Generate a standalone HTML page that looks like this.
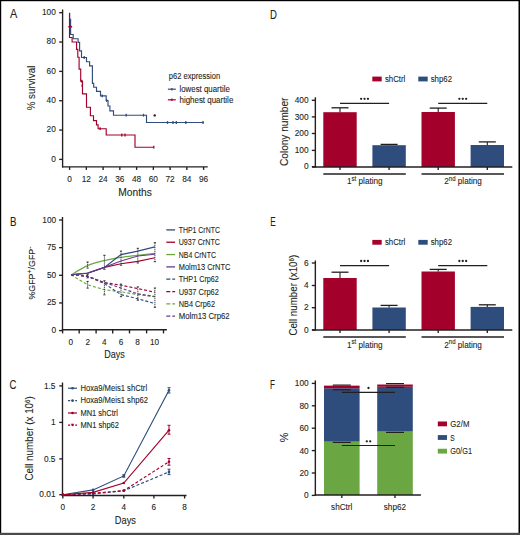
<!DOCTYPE html>
<html><head><meta charset="utf-8"><style>
html,body{margin:0;padding:0;background:#fff;}
body{width:520px;height:535px;overflow:hidden;position:relative;}
svg{position:absolute;left:0;top:0;display:block;}
text{font-family:"Liberation Sans", sans-serif;fill:#231f20;stroke:#231f20;stroke-width:0.1;}
</style></head><body>
<svg width="520" height="535" viewBox="0 0 520 535">
<rect x="0" y="0" width="520" height="535" fill="#fff"/>
<text x="9.9" y="18.4" font-size="12.4" textLength="7.3" lengthAdjust="spacingAndGlyphs">A</text>
<line x1="62.60" y1="9.50" x2="62.60" y2="167.50" stroke="#231f20" stroke-width="1.35"/>
<line x1="62.00" y1="166.90" x2="207.70" y2="166.90" stroke="#231f20" stroke-width="1.35"/>
<line x1="59.20" y1="159.40" x2="62.60" y2="159.40" stroke="#231f20" stroke-width="1.35"/>
<text x="55.8" y="161.70000000000002" font-size="8.3" text-anchor="end">0</text>
<line x1="59.20" y1="130.06" x2="62.60" y2="130.06" stroke="#231f20" stroke-width="1.35"/>
<text x="55.8" y="132.36" font-size="8.3" text-anchor="end">20</text>
<line x1="59.20" y1="100.72" x2="62.60" y2="100.72" stroke="#231f20" stroke-width="1.35"/>
<text x="55.8" y="103.02" font-size="8.3" text-anchor="end">40</text>
<line x1="59.20" y1="71.38" x2="62.60" y2="71.38" stroke="#231f20" stroke-width="1.35"/>
<text x="55.8" y="73.67999999999999" font-size="8.3" text-anchor="end">60</text>
<line x1="59.20" y1="42.04" x2="62.60" y2="42.04" stroke="#231f20" stroke-width="1.35"/>
<text x="55.8" y="44.33999999999999" font-size="8.3" text-anchor="end">80</text>
<line x1="59.20" y1="12.70" x2="62.60" y2="12.70" stroke="#231f20" stroke-width="1.35"/>
<text x="55.8" y="14.99999999999999" font-size="8.3" text-anchor="end">100</text>
<line x1="69.60" y1="166.90" x2="69.60" y2="169.90" stroke="#231f20" stroke-width="1.35"/>
<text x="69.6" y="181.7" font-size="8.3" text-anchor="middle">0</text>
<line x1="86.35" y1="166.90" x2="86.35" y2="169.90" stroke="#231f20" stroke-width="1.35"/>
<text x="86.35" y="181.7" font-size="8.3" text-anchor="middle">12</text>
<line x1="103.10" y1="166.90" x2="103.10" y2="169.90" stroke="#231f20" stroke-width="1.35"/>
<text x="103.1" y="181.7" font-size="8.3" text-anchor="middle">24</text>
<line x1="119.85" y1="166.90" x2="119.85" y2="169.90" stroke="#231f20" stroke-width="1.35"/>
<text x="119.85" y="181.7" font-size="8.3" text-anchor="middle">36</text>
<line x1="136.60" y1="166.90" x2="136.60" y2="169.90" stroke="#231f20" stroke-width="1.35"/>
<text x="136.6" y="181.7" font-size="8.3" text-anchor="middle">48</text>
<line x1="153.35" y1="166.90" x2="153.35" y2="169.90" stroke="#231f20" stroke-width="1.35"/>
<text x="153.35" y="181.7" font-size="8.3" text-anchor="middle">60</text>
<line x1="170.10" y1="166.90" x2="170.10" y2="169.90" stroke="#231f20" stroke-width="1.35"/>
<text x="170.1" y="181.7" font-size="8.3" text-anchor="middle">72</text>
<line x1="186.85" y1="166.90" x2="186.85" y2="169.90" stroke="#231f20" stroke-width="1.35"/>
<text x="186.85" y="181.7" font-size="8.3" text-anchor="middle">84</text>
<line x1="203.60" y1="166.90" x2="203.60" y2="169.90" stroke="#231f20" stroke-width="1.35"/>
<text x="203.6" y="181.7" font-size="8.3" text-anchor="middle">96</text>
<text x="135.05" y="195.6" font-size="10.8" text-anchor="middle" textLength="33.5" lengthAdjust="spacingAndGlyphs">Months</text>
<text x="35.1" y="88.0" font-size="11.3" text-anchor="middle" textLength="44.7" lengthAdjust="spacingAndGlyphs" transform="rotate(-90 35.1 88.0)">% survival</text>
<path d="M69.6,12.7 V19.2 H70.6 V34.5 H73.2 V38.7 H78.1 V42.4 H79.6 V50.8 H81.5 V57.5 H86.5 V61.7 H89.6 V65.8 H92.4 V83.3 H93.7 V87.2 H96.5 V91.4 H100.5 V95.9 H106.2 V100.5 H108 V106 H109.9 V110.9 H113.5 V115.2 H146.5 V122.5 H203.8" fill="none" stroke="#2e4c7c" stroke-width="1.15"/>
<line x1="102.20" y1="94.50" x2="102.20" y2="97.30" stroke="#2e4c7c" stroke-width="1.3"/>
<line x1="106.60" y1="99.10" x2="106.60" y2="101.90" stroke="#2e4c7c" stroke-width="1.3"/>
<line x1="126.20" y1="113.80" x2="126.20" y2="116.60" stroke="#2e4c7c" stroke-width="1.3"/>
<line x1="143.50" y1="113.80" x2="143.50" y2="116.60" stroke="#2e4c7c" stroke-width="1.3"/>
<line x1="167.50" y1="121.10" x2="167.50" y2="123.90" stroke="#2e4c7c" stroke-width="1.3"/>
<line x1="173.00" y1="121.10" x2="173.00" y2="123.90" stroke="#2e4c7c" stroke-width="1.3"/>
<line x1="176.30" y1="121.10" x2="176.30" y2="123.90" stroke="#2e4c7c" stroke-width="1.3"/>
<line x1="185.80" y1="121.10" x2="185.80" y2="123.90" stroke="#2e4c7c" stroke-width="1.3"/>
<line x1="203.00" y1="121.10" x2="203.00" y2="123.90" stroke="#2e4c7c" stroke-width="1.3"/>
<line x1="84.20" y1="56.10" x2="84.20" y2="58.90" stroke="#2e4c7c" stroke-width="1.3"/>
<path d="M69.5,12.9 V37.5 H72.1 V42 H76.6 V49.4 H77.8 V57.2 H79.1 V69.1 H80.7 V81.1 H82.5 V93.8 H86.5 V107.2 H90.4 V115.7 H93.5 V120.6 H96.5 V124.8 H98.1 V128.7 H106.2 V135 H135 V147.2 H153.8" fill="none" stroke="#a3002b" stroke-width="1.15"/>
<line x1="81.50" y1="79.70" x2="81.50" y2="82.50" stroke="#a3002b" stroke-width="1.3"/>
<line x1="82.20" y1="84.30" x2="82.20" y2="87.10" stroke="#a3002b" stroke-width="1.3"/>
<line x1="100.10" y1="127.30" x2="100.10" y2="130.10" stroke="#a3002b" stroke-width="1.3"/>
<line x1="121.80" y1="133.60" x2="121.80" y2="136.40" stroke="#a3002b" stroke-width="1.3"/>
<line x1="125.00" y1="133.60" x2="125.00" y2="136.40" stroke="#a3002b" stroke-width="1.3"/>
<line x1="153.80" y1="145.80" x2="153.80" y2="148.60" stroke="#a3002b" stroke-width="1.3"/>
<line x1="68.40" y1="26.70" x2="72.10" y2="26.70" stroke="#a3002b" stroke-width="1.6"/>
<circle cx="154.70" cy="115.40" r="1.2" fill="#231f20"/>
<text x="168.8" y="79.2" font-size="8.3" textLength="51.3" lengthAdjust="spacingAndGlyphs">p62 expression</text>
<line x1="167.90" y1="89.20" x2="175.80" y2="89.20" stroke="#2e4c7c" stroke-width="1.2"/>
<line x1="171.90" y1="88.00" x2="171.90" y2="90.40" stroke="#2e4c7c" stroke-width="1.3"/>
<text x="179.5" y="92.1" font-size="8.3" textLength="50.3" lengthAdjust="spacingAndGlyphs">lowest quartile</text>
<line x1="167.90" y1="99.80" x2="175.80" y2="99.80" stroke="#a3002b" stroke-width="1.2"/>
<line x1="171.90" y1="98.60" x2="171.90" y2="101.00" stroke="#a3002b" stroke-width="1.3"/>
<text x="179.5" y="102.6" font-size="8.3" textLength="53.8" lengthAdjust="spacingAndGlyphs">highest quartile</text>
<text x="10.0" y="225.5" font-size="12.4" textLength="6.5" lengthAdjust="spacingAndGlyphs">B</text>
<line x1="62.50" y1="217.00" x2="62.50" y2="330.30" stroke="#231f20" stroke-width="1.35"/>
<line x1="61.80" y1="329.70" x2="166.90" y2="329.70" stroke="#231f20" stroke-width="1.35"/>
<line x1="59.10" y1="330.60" x2="62.50" y2="330.60" stroke="#231f20" stroke-width="1.35"/>
<text x="56.2" y="333.1" font-size="8.3" text-anchor="end">0</text>
<line x1="59.10" y1="302.95" x2="62.50" y2="302.95" stroke="#231f20" stroke-width="1.35"/>
<text x="56.2" y="305.45" font-size="8.3" text-anchor="end">25</text>
<line x1="59.10" y1="275.30" x2="62.50" y2="275.30" stroke="#231f20" stroke-width="1.35"/>
<text x="56.2" y="277.8" font-size="8.3" text-anchor="end">50</text>
<line x1="59.10" y1="247.65" x2="62.50" y2="247.65" stroke="#231f20" stroke-width="1.35"/>
<text x="56.2" y="250.15" font-size="8.3" text-anchor="end">75</text>
<line x1="59.10" y1="220.00" x2="62.50" y2="220.00" stroke="#231f20" stroke-width="1.35"/>
<text x="56.2" y="222.5" font-size="8.3" text-anchor="end">100</text>
<line x1="62.60" y1="329.70" x2="62.60" y2="333.40" stroke="#231f20" stroke-width="1.35"/>
<line x1="79.20" y1="329.70" x2="79.20" y2="333.40" stroke="#231f20" stroke-width="1.35"/>
<line x1="96.10" y1="329.70" x2="96.10" y2="333.40" stroke="#231f20" stroke-width="1.35"/>
<line x1="112.70" y1="329.70" x2="112.70" y2="333.40" stroke="#231f20" stroke-width="1.35"/>
<line x1="129.50" y1="329.70" x2="129.50" y2="333.40" stroke="#231f20" stroke-width="1.35"/>
<line x1="146.60" y1="329.70" x2="146.60" y2="333.40" stroke="#231f20" stroke-width="1.35"/>
<line x1="163.50" y1="329.70" x2="163.50" y2="333.40" stroke="#231f20" stroke-width="1.35"/>
<text x="70.7" y="344.6" font-size="8.2" text-anchor="middle">0</text>
<text x="87.8" y="344.6" font-size="8.2" text-anchor="middle">2</text>
<text x="104.2" y="344.6" font-size="8.2" text-anchor="middle">4</text>
<text x="121" y="344.6" font-size="8.2" text-anchor="middle">6</text>
<text x="137.6" y="344.6" font-size="8.2" text-anchor="middle">8</text>
<text x="154.5" y="344.6" font-size="8.2" text-anchor="middle">10</text>
<text x="114.6" y="358.3" font-size="10.3" text-anchor="middle" textLength="20.6" lengthAdjust="spacingAndGlyphs">Days</text>
<text x="35.4" y="273.0" font-size="9.5" text-anchor="middle" textLength="53" lengthAdjust="spacingAndGlyphs" transform="rotate(-90 35.4 273.0)">%GFP<tspan font-size="7.5" dy="-3.4">+</tspan><tspan dy="3.4">/GFP</tspan><tspan font-size="7.5" dy="-3.4">-</tspan></text>
<polyline points="71.0,274.8 87.6,284.8 104.4,289.7 121.0,291.8 137.8,294.6 154.9,296.7" fill="none" stroke="#6aa642" stroke-width="1.15" stroke-dasharray="3,2"/>
<polyline points="71.0,274.8 87.6,276.3 104.4,283.6 121.0,294.6 137.8,298.8 154.9,303.5" fill="none" stroke="#2e4c7c" stroke-width="1.15" stroke-dasharray="3,2"/>
<polyline points="71.0,274.8 87.6,276.3 104.4,282.6 121.0,285.2 137.8,288.6 154.9,292.2" fill="none" stroke="#a3002b" stroke-width="1.15" stroke-dasharray="3,2"/>
<polyline points="71.0,274.8 87.6,276.3 104.4,282.6 121.0,288.0 137.8,293.9 154.9,296.5" fill="none" stroke="#633d8c" stroke-width="1.15" stroke-dasharray="3,2"/>
<path d="M71,274.8 C73.77,273.27 82.03,267.98 87.6,265.6 C93.17,263.22 98.83,261.87 104.4,260.5 C109.97,259.13 115.43,258.27 121,257.4 C126.57,256.53 132.15,256.00 137.8,255.3 C143.45,254.60 152.05,253.55 154.9,253.2" fill="none" stroke="#6aa642" stroke-width="1.15"/>
<polyline points="71.0,274.8 87.6,273.3 104.4,267.4 121.0,263.8 137.8,261.4 154.9,257.7" fill="none" stroke="#a3002b" stroke-width="1.15"/>
<polyline points="71.0,274.8 87.6,273.0 104.4,267.5 121.0,254.6 137.8,251.1 154.9,246.9" fill="none" stroke="#2e4c7c" stroke-width="1.15"/>
<polyline points="71.0,274.8 87.6,273.3 104.4,267.2 121.0,261.0 137.8,256.0 154.9,254.2" fill="none" stroke="#633d8c" stroke-width="1.15"/>
<line x1="87.60" y1="262.00" x2="87.60" y2="268.10" stroke="#333" stroke-width="0.9" stroke-dasharray="1.3,0.7"/>
<line x1="86.50" y1="262.00" x2="88.70" y2="262.00" stroke="#231f20" stroke-width="0.9"/>
<line x1="86.50" y1="268.10" x2="88.70" y2="268.10" stroke="#231f20" stroke-width="0.9"/>
<line x1="104.40" y1="255.30" x2="104.40" y2="269.30" stroke="#333" stroke-width="0.9" stroke-dasharray="1.3,0.7"/>
<line x1="103.30" y1="255.30" x2="105.50" y2="255.30" stroke="#231f20" stroke-width="0.9"/>
<line x1="103.30" y1="269.30" x2="105.50" y2="269.30" stroke="#231f20" stroke-width="0.9"/>
<line x1="121.00" y1="251.10" x2="121.00" y2="265.20" stroke="#333" stroke-width="0.9" stroke-dasharray="1.3,0.7"/>
<line x1="119.90" y1="251.10" x2="122.10" y2="251.10" stroke="#231f20" stroke-width="0.9"/>
<line x1="119.90" y1="265.20" x2="122.10" y2="265.20" stroke="#231f20" stroke-width="0.9"/>
<line x1="137.80" y1="248.30" x2="137.80" y2="263.00" stroke="#333" stroke-width="0.9" stroke-dasharray="1.3,0.7"/>
<line x1="136.70" y1="248.30" x2="138.90" y2="248.30" stroke="#231f20" stroke-width="0.9"/>
<line x1="136.70" y1="263.00" x2="138.90" y2="263.00" stroke="#231f20" stroke-width="0.9"/>
<line x1="154.90" y1="242.70" x2="154.90" y2="261.70" stroke="#333" stroke-width="0.9" stroke-dasharray="1.3,0.7"/>
<line x1="153.80" y1="242.70" x2="156.00" y2="242.70" stroke="#231f20" stroke-width="0.9"/>
<line x1="153.80" y1="261.70" x2="156.00" y2="261.70" stroke="#231f20" stroke-width="0.9"/>
<line x1="87.60" y1="274.70" x2="87.60" y2="277.80" stroke="#333" stroke-width="0.9" stroke-dasharray="1.3,0.7"/>
<line x1="86.50" y1="274.70" x2="88.70" y2="274.70" stroke="#231f20" stroke-width="0.9"/>
<line x1="86.50" y1="277.80" x2="88.70" y2="277.80" stroke="#231f20" stroke-width="0.9"/>
<line x1="87.60" y1="281.40" x2="87.60" y2="288.10" stroke="#333" stroke-width="0.9" stroke-dasharray="1.3,0.7"/>
<line x1="86.50" y1="281.40" x2="88.70" y2="281.40" stroke="#231f20" stroke-width="0.9"/>
<line x1="86.50" y1="288.10" x2="88.70" y2="288.10" stroke="#231f20" stroke-width="0.9"/>
<line x1="104.40" y1="280.80" x2="104.40" y2="294.80" stroke="#333" stroke-width="0.9" stroke-dasharray="1.3,0.7"/>
<line x1="103.30" y1="280.80" x2="105.50" y2="280.80" stroke="#231f20" stroke-width="0.9"/>
<line x1="103.30" y1="294.80" x2="105.50" y2="294.80" stroke="#231f20" stroke-width="0.9"/>
<line x1="121.00" y1="284.10" x2="121.00" y2="296.70" stroke="#333" stroke-width="0.9" stroke-dasharray="1.3,0.7"/>
<line x1="119.90" y1="284.10" x2="122.10" y2="284.10" stroke="#231f20" stroke-width="0.9"/>
<line x1="119.90" y1="296.70" x2="122.10" y2="296.70" stroke="#231f20" stroke-width="0.9"/>
<line x1="137.80" y1="286.90" x2="137.80" y2="300.20" stroke="#333" stroke-width="0.9" stroke-dasharray="1.3,0.7"/>
<line x1="136.70" y1="286.90" x2="138.90" y2="286.90" stroke="#231f20" stroke-width="0.9"/>
<line x1="136.70" y1="300.20" x2="138.90" y2="300.20" stroke="#231f20" stroke-width="0.9"/>
<line x1="154.90" y1="288.00" x2="154.90" y2="307.30" stroke="#333" stroke-width="0.9" stroke-dasharray="1.3,0.7"/>
<line x1="153.80" y1="288.00" x2="156.00" y2="288.00" stroke="#231f20" stroke-width="0.9"/>
<line x1="153.80" y1="307.30" x2="156.00" y2="307.30" stroke="#231f20" stroke-width="0.9"/>
<line x1="166.30" y1="229.90" x2="175.10" y2="229.90" stroke="#2e4c7c" stroke-width="1.3"/>
<text x="178.7" y="232.9" font-size="9.1" textLength="41.2" lengthAdjust="spacingAndGlyphs">THP1 CrNTC</text>
<line x1="166.30" y1="242.23" x2="175.10" y2="242.23" stroke="#a3002b" stroke-width="1.3"/>
<text x="178.7" y="245.23000000000002" font-size="9.1" textLength="41.2" lengthAdjust="spacingAndGlyphs">U937 CrNTC</text>
<line x1="166.30" y1="254.56" x2="175.10" y2="254.56" stroke="#6aa642" stroke-width="1.3"/>
<text x="178.7" y="257.56" font-size="9.1" textLength="37.3" lengthAdjust="spacingAndGlyphs">NB4 CrNTC</text>
<line x1="166.30" y1="266.89" x2="175.10" y2="266.89" stroke="#633d8c" stroke-width="1.3"/>
<text x="178.7" y="269.89" font-size="9.1" textLength="51.6" lengthAdjust="spacingAndGlyphs">Molm13 CrNTC</text>
<line x1="166.30" y1="279.22" x2="175.10" y2="279.22" stroke="#2e4c7c" stroke-width="1.3" stroke-dasharray="4,2"/>
<text x="178.7" y="282.22" font-size="9.1" textLength="40.2" lengthAdjust="spacingAndGlyphs">THP1 Crp62</text>
<line x1="166.30" y1="291.55" x2="175.10" y2="291.55" stroke="#a3002b" stroke-width="1.3" stroke-dasharray="4,2"/>
<text x="178.7" y="294.55" font-size="9.1" textLength="40.2" lengthAdjust="spacingAndGlyphs">U937 Crp62</text>
<line x1="166.30" y1="303.88" x2="175.10" y2="303.88" stroke="#6aa642" stroke-width="1.3" stroke-dasharray="4,2"/>
<text x="178.7" y="306.88" font-size="9.1" textLength="36.3" lengthAdjust="spacingAndGlyphs">NB4 Crp62</text>
<line x1="166.30" y1="316.21" x2="175.10" y2="316.21" stroke="#633d8c" stroke-width="1.3" stroke-dasharray="4,2"/>
<text x="178.7" y="319.21000000000004" font-size="9.1" textLength="51.0" lengthAdjust="spacingAndGlyphs">Molm13 Crp62</text>
<text x="9.4" y="389.0" font-size="12.4" textLength="6.9" lengthAdjust="spacingAndGlyphs">C</text>
<line x1="62.50" y1="382.50" x2="62.50" y2="496.10" stroke="#231f20" stroke-width="1.35"/>
<line x1="62.20" y1="495.50" x2="186.50" y2="495.50" stroke="#231f20" stroke-width="1.35"/>
<line x1="59.30" y1="494.67" x2="62.50" y2="494.67" stroke="#231f20" stroke-width="1.35"/>
<text x="55.5" y="497.27" font-size="8.3" text-anchor="end">0.01</text>
<line x1="59.30" y1="458.90" x2="62.50" y2="458.90" stroke="#231f20" stroke-width="1.35"/>
<text x="55.5" y="461.5" font-size="8.3" text-anchor="end">0.5</text>
<line x1="59.30" y1="422.40" x2="62.50" y2="422.40" stroke="#231f20" stroke-width="1.35"/>
<text x="55.5" y="425.0" font-size="8.3" text-anchor="end">1</text>
<line x1="59.30" y1="385.90" x2="62.50" y2="385.90" stroke="#231f20" stroke-width="1.35"/>
<text x="55.5" y="388.5" font-size="8.3" text-anchor="end">1.5</text>
<line x1="62.80" y1="495.50" x2="62.80" y2="498.50" stroke="#231f20" stroke-width="1.35"/>
<text x="62.8" y="509.8" font-size="8.2" text-anchor="middle">0</text>
<line x1="93.10" y1="495.50" x2="93.10" y2="498.50" stroke="#231f20" stroke-width="1.35"/>
<text x="93.1" y="509.8" font-size="8.2" text-anchor="middle">2</text>
<line x1="123.80" y1="495.50" x2="123.80" y2="498.50" stroke="#231f20" stroke-width="1.35"/>
<text x="123.8" y="509.8" font-size="8.2" text-anchor="middle">4</text>
<line x1="153.90" y1="495.50" x2="153.90" y2="498.50" stroke="#231f20" stroke-width="1.35"/>
<text x="153.9" y="509.8" font-size="8.2" text-anchor="middle">6</text>
<line x1="184.60" y1="495.50" x2="184.60" y2="498.50" stroke="#231f20" stroke-width="1.35"/>
<text x="184.6" y="509.8" font-size="8.2" text-anchor="middle">8</text>
<text x="125.4" y="524.2" font-size="10.4" text-anchor="middle" textLength="21.2" lengthAdjust="spacingAndGlyphs">Days</text>
<text x="33.4" y="438.4" font-size="10.5" text-anchor="middle" textLength="84.3" lengthAdjust="spacingAndGlyphs" transform="rotate(-90 33.4 438.4)">Cell number (x 10<tspan font-size="6.5" dy="-3.8">6</tspan><tspan dy="3.8">)</tspan></text>
<line x1="169.00" y1="387.70" x2="169.00" y2="393.00" stroke="#2e4c7c" stroke-width="1.0"/>
<line x1="167.50" y1="387.70" x2="170.50" y2="387.70" stroke="#2e4c7c" stroke-width="1.0"/>
<line x1="167.50" y1="393.00" x2="170.50" y2="393.00" stroke="#2e4c7c" stroke-width="1.0"/>
<line x1="169.00" y1="425.30" x2="169.00" y2="434.20" stroke="#a3002b" stroke-width="1.0"/>
<line x1="167.50" y1="425.30" x2="170.50" y2="425.30" stroke="#a3002b" stroke-width="1.0"/>
<line x1="167.50" y1="434.20" x2="170.50" y2="434.20" stroke="#a3002b" stroke-width="1.0"/>
<line x1="169.00" y1="458.50" x2="169.00" y2="465.20" stroke="#a3002b" stroke-width="1.0"/>
<line x1="167.50" y1="458.50" x2="170.50" y2="458.50" stroke="#a3002b" stroke-width="1.0"/>
<line x1="167.50" y1="465.20" x2="170.50" y2="465.20" stroke="#a3002b" stroke-width="1.0"/>
<line x1="169.00" y1="469.20" x2="169.00" y2="474.60" stroke="#2e4c7c" stroke-width="1.0"/>
<line x1="167.50" y1="469.20" x2="170.50" y2="469.20" stroke="#2e4c7c" stroke-width="1.0"/>
<line x1="167.50" y1="474.60" x2="170.50" y2="474.60" stroke="#2e4c7c" stroke-width="1.0"/>
<line x1="123.80" y1="474.80" x2="123.80" y2="477.20" stroke="#2e4c7c" stroke-width="1.0"/>
<line x1="122.30" y1="474.80" x2="125.30" y2="474.80" stroke="#2e4c7c" stroke-width="1.0"/>
<line x1="122.30" y1="477.20" x2="125.30" y2="477.20" stroke="#2e4c7c" stroke-width="1.0"/>
<polyline points="62.8,494.8 93.1,494.0 123.8,490.8 169.0,471.9" fill="none" stroke="#2e4c7c" stroke-width="1.15" stroke-dasharray="3,2"/>
<circle cx="62.80" cy="494.80" r="1.3" fill="#2e4c7c"/>
<circle cx="93.10" cy="494.00" r="1.3" fill="#2e4c7c"/>
<circle cx="123.80" cy="490.80" r="1.3" fill="#2e4c7c"/>
<circle cx="169.00" cy="471.90" r="1.3" fill="#2e4c7c"/>
<polyline points="62.8,494.8 93.1,489.9 123.8,475.9 169.0,390.3" fill="none" stroke="#2e4c7c" stroke-width="1.15"/>
<circle cx="62.80" cy="494.80" r="1.3" fill="#2e4c7c"/>
<circle cx="93.10" cy="489.90" r="1.3" fill="#2e4c7c"/>
<circle cx="123.80" cy="475.90" r="1.3" fill="#2e4c7c"/>
<circle cx="169.00" cy="390.30" r="1.3" fill="#2e4c7c"/>
<polyline points="62.8,494.8 93.1,493.3 123.8,490.6 169.0,461.7" fill="none" stroke="#a3002b" stroke-width="1.15" stroke-dasharray="3,2"/>
<circle cx="62.80" cy="494.80" r="1.3" fill="#a3002b"/>
<circle cx="93.10" cy="493.30" r="1.3" fill="#a3002b"/>
<circle cx="123.80" cy="490.60" r="1.3" fill="#a3002b"/>
<circle cx="169.00" cy="461.70" r="1.3" fill="#a3002b"/>
<polyline points="62.8,494.8 93.1,492.4 123.8,483.0 169.0,430.2" fill="none" stroke="#a3002b" stroke-width="1.15"/>
<circle cx="62.80" cy="494.80" r="1.3" fill="#a3002b"/>
<circle cx="93.10" cy="492.40" r="1.3" fill="#a3002b"/>
<circle cx="123.80" cy="483.00" r="1.3" fill="#a3002b"/>
<circle cx="169.00" cy="430.20" r="1.3" fill="#a3002b"/>
<line x1="68.00" y1="388.20" x2="77.00" y2="388.20" stroke="#2e4c7c" stroke-width="1.2"/>
<circle cx="72.50" cy="388.20" r="1.3" fill="#2e4c7c"/>
<text x="80.4" y="390.9" font-size="8.8" textLength="66.7" lengthAdjust="spacingAndGlyphs">Hoxa9/Meis1 shCtrl</text>
<line x1="68.00" y1="400.60" x2="77.00" y2="400.60" stroke="#2e4c7c" stroke-width="1.2" stroke-dasharray="2.2,1.4"/>
<circle cx="72.50" cy="400.60" r="1.3" fill="#2e4c7c"/>
<text x="80.4" y="403.3" font-size="8.8" textLength="67.5" lengthAdjust="spacingAndGlyphs">Hoxa9/Meis1 shp62</text>
<line x1="68.00" y1="413.00" x2="77.00" y2="413.00" stroke="#a3002b" stroke-width="1.2"/>
<circle cx="72.50" cy="413.00" r="1.3" fill="#a3002b"/>
<text x="80.4" y="415.7" font-size="8.8" textLength="37.6" lengthAdjust="spacingAndGlyphs">MN1 shCtrl</text>
<line x1="68.00" y1="425.10" x2="77.00" y2="425.10" stroke="#a3002b" stroke-width="1.2" stroke-dasharray="2.2,1.4"/>
<path d="M70.9,423.8 L74.1,423.8 L72.5,426.6 Z" fill="#a3002b"/>
<text x="80.4" y="427.8" font-size="8.8" textLength="38.6" lengthAdjust="spacingAndGlyphs">MN1 shp62</text>
<text x="269.9" y="18.5" font-size="12.4" textLength="6.9" lengthAdjust="spacingAndGlyphs">D</text>
<rect x="372.30" y="76.60" width="9.40" height="4.80" fill="#a3002b"/>
<text x="384.9" y="82.1" font-size="8.9" textLength="20.4" lengthAdjust="spacingAndGlyphs">shCtrl</text>
<rect x="418.30" y="76.60" width="9.40" height="4.80" fill="#2e4c7c"/>
<text x="430.7" y="82.1" font-size="8.9" textLength="21.3" lengthAdjust="spacingAndGlyphs">shp62</text>
<rect x="323.30" y="112.20" width="33.40" height="54.80" fill="#a3002b"/>
<line x1="340.00" y1="107.80" x2="340.00" y2="112.20" stroke="#231f20" stroke-width="1.1"/>
<line x1="331.50" y1="107.80" x2="348.50" y2="107.80" stroke="#231f20" stroke-width="1.3"/>
<rect x="372.40" y="145.20" width="33.40" height="21.80" fill="#2e4c7c"/>
<line x1="389.10" y1="144.40" x2="389.10" y2="145.20" stroke="#231f20" stroke-width="1.1"/>
<line x1="380.60" y1="144.40" x2="397.60" y2="144.40" stroke="#231f20" stroke-width="1.3"/>
<rect x="421.50" y="112.00" width="33.40" height="55.00" fill="#a3002b"/>
<line x1="438.20" y1="108.10" x2="438.20" y2="112.00" stroke="#231f20" stroke-width="1.1"/>
<line x1="429.70" y1="108.10" x2="446.70" y2="108.10" stroke="#231f20" stroke-width="1.3"/>
<rect x="470.60" y="145.00" width="33.40" height="22.00" fill="#2e4c7c"/>
<line x1="487.30" y1="141.90" x2="487.30" y2="145.00" stroke="#231f20" stroke-width="1.1"/>
<line x1="478.80" y1="141.90" x2="495.80" y2="141.90" stroke="#231f20" stroke-width="1.3"/>
<line x1="315.35" y1="97.30" x2="315.35" y2="167.60" stroke="#231f20" stroke-width="1.4"/>
<line x1="312.00" y1="167.00" x2="512.30" y2="167.00" stroke="#231f20" stroke-width="1.35"/>
<line x1="311.80" y1="166.70" x2="315.35" y2="166.70" stroke="#231f20" stroke-width="1.35"/>
<text x="308.6" y="169.29999999999998" font-size="8.3" text-anchor="end">0</text>
<line x1="311.80" y1="150.40" x2="315.35" y2="150.40" stroke="#231f20" stroke-width="1.35"/>
<text x="308.6" y="153.0" font-size="8.3" text-anchor="end">100</text>
<line x1="311.80" y1="133.50" x2="315.35" y2="133.50" stroke="#231f20" stroke-width="1.35"/>
<text x="308.6" y="136.1" font-size="8.3" text-anchor="end">200</text>
<line x1="311.80" y1="116.90" x2="315.35" y2="116.90" stroke="#231f20" stroke-width="1.35"/>
<text x="308.6" y="119.5" font-size="8.3" text-anchor="end">300</text>
<line x1="311.80" y1="100.30" x2="315.35" y2="100.30" stroke="#231f20" stroke-width="1.35"/>
<text x="308.6" y="102.89999999999999" font-size="8.3" text-anchor="end">400</text>
<line x1="340.00" y1="167.00" x2="340.00" y2="170.00" stroke="#231f20" stroke-width="1.35"/>
<line x1="389.10" y1="167.00" x2="389.10" y2="170.00" stroke="#231f20" stroke-width="1.35"/>
<line x1="438.20" y1="167.00" x2="438.20" y2="170.00" stroke="#231f20" stroke-width="1.35"/>
<line x1="487.30" y1="167.00" x2="487.30" y2="170.00" stroke="#231f20" stroke-width="1.35"/>
<line x1="340.00" y1="103.40" x2="389.10" y2="103.40" stroke="#231f20" stroke-width="1.1"/>
<circle cx="361.15" cy="98.80" r="1.15" fill="#231f20"/>
<circle cx="364.55" cy="98.80" r="1.15" fill="#231f20"/>
<circle cx="367.95" cy="98.80" r="1.15" fill="#231f20"/>
<line x1="323.30" y1="173.90" x2="405.80" y2="173.90" stroke="#231f20" stroke-width="1.5"/>
<line x1="438.20" y1="103.40" x2="487.30" y2="103.40" stroke="#231f20" stroke-width="1.1"/>
<circle cx="459.35" cy="98.80" r="1.15" fill="#231f20"/>
<circle cx="462.75" cy="98.80" r="1.15" fill="#231f20"/>
<circle cx="466.15" cy="98.80" r="1.15" fill="#231f20"/>
<line x1="421.50" y1="173.90" x2="504.00" y2="173.90" stroke="#231f20" stroke-width="1.5"/>
<text x="364.85" y="184.2" font-size="8.9" text-anchor="middle" textLength="35.6" lengthAdjust="spacingAndGlyphs">1<tspan font-size="6.6" dy="-3.3">st</tspan><tspan dy="3.3"> plating</tspan></text>
<text x="463.05" y="184.2" font-size="8.9" text-anchor="middle" textLength="37.5" lengthAdjust="spacingAndGlyphs">2<tspan font-size="6.6" dy="-3.3">nd</tspan><tspan dy="3.3"> plating</tspan></text>
<text x="287.7" y="131.8" font-size="10.3" text-anchor="middle" textLength="68.3" lengthAdjust="spacingAndGlyphs" transform="rotate(-90 287.7 131.8)">Colony number</text>
<text x="270.2" y="225.6" font-size="12.4" textLength="5.5" lengthAdjust="spacingAndGlyphs">E</text>
<rect x="372.30" y="239.90" width="9.40" height="4.80" fill="#a3002b"/>
<text x="384.9" y="245.4" font-size="8.9" textLength="20.4" lengthAdjust="spacingAndGlyphs">shCtrl</text>
<rect x="418.30" y="239.90" width="9.40" height="4.80" fill="#2e4c7c"/>
<text x="430.7" y="245.4" font-size="8.9" textLength="21.3" lengthAdjust="spacingAndGlyphs">shp62</text>
<rect x="323.30" y="278.00" width="33.40" height="52.00" fill="#a3002b"/>
<line x1="340.00" y1="272.20" x2="340.00" y2="278.00" stroke="#231f20" stroke-width="1.1"/>
<line x1="331.50" y1="272.20" x2="348.50" y2="272.20" stroke="#231f20" stroke-width="1.3"/>
<rect x="372.40" y="307.50" width="33.40" height="22.50" fill="#2e4c7c"/>
<line x1="389.10" y1="305.40" x2="389.10" y2="307.50" stroke="#231f20" stroke-width="1.1"/>
<line x1="380.60" y1="305.40" x2="397.60" y2="305.40" stroke="#231f20" stroke-width="1.3"/>
<rect x="421.50" y="271.50" width="33.40" height="58.50" fill="#a3002b"/>
<line x1="438.20" y1="269.40" x2="438.20" y2="271.50" stroke="#231f20" stroke-width="1.1"/>
<line x1="429.70" y1="269.40" x2="446.70" y2="269.40" stroke="#231f20" stroke-width="1.3"/>
<rect x="470.60" y="306.90" width="33.40" height="23.10" fill="#2e4c7c"/>
<line x1="487.30" y1="304.80" x2="487.30" y2="306.90" stroke="#231f20" stroke-width="1.1"/>
<line x1="478.80" y1="304.80" x2="495.80" y2="304.80" stroke="#231f20" stroke-width="1.3"/>
<line x1="315.35" y1="260.50" x2="315.35" y2="330.60" stroke="#231f20" stroke-width="1.4"/>
<line x1="312.00" y1="330.00" x2="512.30" y2="330.00" stroke="#231f20" stroke-width="1.35"/>
<line x1="311.80" y1="330.00" x2="315.35" y2="330.00" stroke="#231f20" stroke-width="1.35"/>
<text x="308.6" y="332.6" font-size="8.3" text-anchor="end">0</text>
<line x1="311.80" y1="307.70" x2="315.35" y2="307.70" stroke="#231f20" stroke-width="1.35"/>
<text x="308.6" y="310.3" font-size="8.3" text-anchor="end">2</text>
<line x1="311.80" y1="285.50" x2="315.35" y2="285.50" stroke="#231f20" stroke-width="1.35"/>
<text x="308.6" y="288.1" font-size="8.3" text-anchor="end">4</text>
<line x1="311.80" y1="263.00" x2="315.35" y2="263.00" stroke="#231f20" stroke-width="1.35"/>
<text x="308.6" y="265.6" font-size="8.3" text-anchor="end">6</text>
<line x1="340.00" y1="330.00" x2="340.00" y2="333.00" stroke="#231f20" stroke-width="1.35"/>
<line x1="389.10" y1="330.00" x2="389.10" y2="333.00" stroke="#231f20" stroke-width="1.35"/>
<line x1="438.20" y1="330.00" x2="438.20" y2="333.00" stroke="#231f20" stroke-width="1.35"/>
<line x1="487.30" y1="330.00" x2="487.30" y2="333.00" stroke="#231f20" stroke-width="1.35"/>
<line x1="340.00" y1="265.60" x2="389.10" y2="265.60" stroke="#231f20" stroke-width="1.1"/>
<circle cx="361.15" cy="261.00" r="1.15" fill="#231f20"/>
<circle cx="364.55" cy="261.00" r="1.15" fill="#231f20"/>
<circle cx="367.95" cy="261.00" r="1.15" fill="#231f20"/>
<line x1="323.30" y1="337.00" x2="405.80" y2="337.00" stroke="#231f20" stroke-width="1.5"/>
<line x1="438.20" y1="265.60" x2="487.30" y2="265.60" stroke="#231f20" stroke-width="1.1"/>
<circle cx="459.35" cy="261.00" r="1.15" fill="#231f20"/>
<circle cx="462.75" cy="261.00" r="1.15" fill="#231f20"/>
<circle cx="466.15" cy="261.00" r="1.15" fill="#231f20"/>
<line x1="421.50" y1="337.00" x2="504.00" y2="337.00" stroke="#231f20" stroke-width="1.5"/>
<text x="364.85" y="347.6" font-size="8.9" text-anchor="middle" textLength="35.6" lengthAdjust="spacingAndGlyphs">1<tspan font-size="6.6" dy="-3.3">st</tspan><tspan dy="3.3"> plating</tspan></text>
<text x="463.05" y="347.6" font-size="8.9" text-anchor="middle" textLength="37.5" lengthAdjust="spacingAndGlyphs">2<tspan font-size="6.6" dy="-3.3">nd</tspan><tspan dy="3.3"> plating</tspan></text>
<text x="297.5" y="295.2" font-size="10.3" text-anchor="middle" textLength="80.8" lengthAdjust="spacingAndGlyphs" transform="rotate(-90 297.5 295.2)">Cell number (x10<tspan font-size="6.5" dy="-3.8">6</tspan><tspan dy="3.8">)</tspan></text>
<text x="270.0" y="388.6" font-size="12.4" textLength="5.0" lengthAdjust="spacingAndGlyphs">F</text>
<rect x="324.00" y="441.64" width="35.60" height="53.36" fill="#6aa642"/>
<rect x="324.00" y="388.22" width="35.60" height="53.42" fill="#2e4c7c"/>
<rect x="324.00" y="385.64" width="35.60" height="2.58" fill="#a3002b"/>
<line x1="332.80" y1="442.40" x2="350.80" y2="442.40" stroke="#231f20" stroke-width="1.2"/>
<line x1="332.80" y1="389.70" x2="350.80" y2="389.70" stroke="#231f20" stroke-width="1.2"/>
<line x1="332.80" y1="385.10" x2="350.80" y2="385.10" stroke="#231f20" stroke-width="1.2"/>
<rect x="377.20" y="431.56" width="35.60" height="63.44" fill="#6aa642"/>
<rect x="377.20" y="386.76" width="35.60" height="44.80" fill="#2e4c7c"/>
<rect x="377.20" y="384.52" width="35.60" height="2.24" fill="#a3002b"/>
<line x1="386.00" y1="432.40" x2="404.00" y2="432.40" stroke="#231f20" stroke-width="1.2"/>
<line x1="386.00" y1="387.30" x2="404.00" y2="387.30" stroke="#231f20" stroke-width="1.2"/>
<line x1="386.00" y1="383.60" x2="404.00" y2="383.60" stroke="#231f20" stroke-width="1.2"/>
<line x1="315.35" y1="380.40" x2="315.35" y2="495.60" stroke="#231f20" stroke-width="1.4"/>
<line x1="314.80" y1="495.00" x2="420.90" y2="495.00" stroke="#231f20" stroke-width="1.35"/>
<line x1="311.80" y1="495.40" x2="315.35" y2="495.40" stroke="#231f20" stroke-width="1.35"/>
<text x="308.7" y="498.4" font-size="8.3" text-anchor="end">0</text>
<line x1="311.80" y1="473.00" x2="315.35" y2="473.00" stroke="#231f20" stroke-width="1.35"/>
<text x="308.7" y="476.0" font-size="8.3" text-anchor="end">20</text>
<line x1="311.80" y1="450.60" x2="315.35" y2="450.60" stroke="#231f20" stroke-width="1.35"/>
<text x="308.7" y="453.59999999999997" font-size="8.3" text-anchor="end">40</text>
<line x1="311.80" y1="428.20" x2="315.35" y2="428.20" stroke="#231f20" stroke-width="1.35"/>
<text x="308.7" y="431.2" font-size="8.3" text-anchor="end">60</text>
<line x1="311.80" y1="405.80" x2="315.35" y2="405.80" stroke="#231f20" stroke-width="1.35"/>
<text x="308.7" y="408.79999999999995" font-size="8.3" text-anchor="end">80</text>
<line x1="311.80" y1="383.40" x2="315.35" y2="383.40" stroke="#231f20" stroke-width="1.35"/>
<text x="308.7" y="386.4" font-size="8.3" text-anchor="end">100</text>
<line x1="341.80" y1="495.00" x2="341.80" y2="498.00" stroke="#231f20" stroke-width="1.35"/>
<line x1="395.00" y1="495.00" x2="395.00" y2="498.00" stroke="#231f20" stroke-width="1.35"/>
<text x="341.7" y="509.9" font-size="8.8" text-anchor="middle" textLength="21.2" lengthAdjust="spacingAndGlyphs">shCtrl</text>
<text x="394.9" y="509.9" font-size="8.8" text-anchor="middle" textLength="22.2" lengthAdjust="spacingAndGlyphs">shp62</text>
<line x1="341.90" y1="392.40" x2="395.00" y2="392.40" stroke="#231f20" stroke-width="1.1"/>
<line x1="341.90" y1="445.50" x2="395.00" y2="445.50" stroke="#231f20" stroke-width="1.1"/>
<circle cx="368.50" cy="388.00" r="1.15" fill="#231f20"/>
<circle cx="366.80" cy="441.30" r="1.15" fill="#231f20"/>
<circle cx="370.20" cy="441.30" r="1.15" fill="#231f20"/>
<rect x="437.80" y="421.50" width="9.20" height="4.80" fill="#a3002b"/>
<text x="450.3" y="427.0" font-size="8.9" textLength="19.1" lengthAdjust="spacingAndGlyphs">G2/M</text>
<rect x="437.80" y="435.10" width="9.20" height="4.80" fill="#2e4c7c"/>
<text x="450.3" y="440.6" font-size="8.9" textLength="4.4" lengthAdjust="spacingAndGlyphs">S</text>
<rect x="437.80" y="448.75" width="9.20" height="4.80" fill="#6aa642"/>
<text x="450.3" y="454.25" font-size="8.9" textLength="21.7" lengthAdjust="spacingAndGlyphs">G0/G1</text>
<text x="288.0" y="437.5" font-size="10.8" text-anchor="middle" transform="rotate(-90 288.0 437.5)">%</text>
<rect x="0" y="0" width="1.2" height="535" fill="#000"/>
<rect x="0" y="0" width="520" height="1.2" fill="#000"/>
<rect x="518.5" y="0" width="1.5" height="535" fill="#000"/>
<rect x="0" y="532.8" width="520" height="2.2" fill="#4a4a4a"/>
</svg>
</body></html>
